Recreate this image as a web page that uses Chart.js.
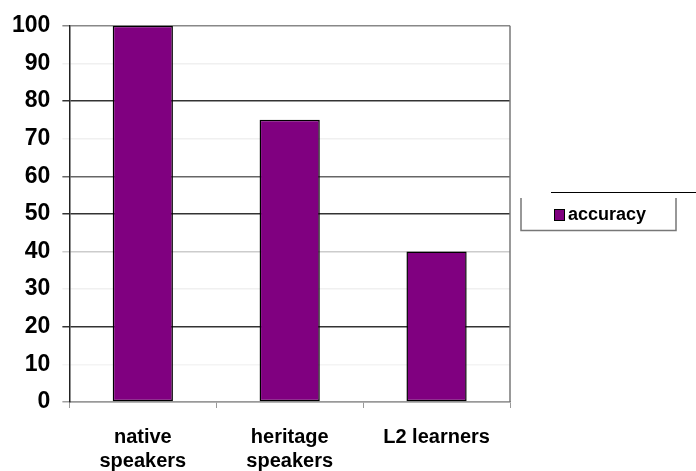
<!DOCTYPE html>
<html>
<head>
<meta charset="utf-8">
<style>
  html, body { margin: 0; padding: 0; background: #ffffff; }
  #wrap { width: 696px; height: 471px; }
</style>
<script src="https://cdn.jsdelivr.net/npm/chart.js@4/dist/chart.umd.min.js"></script>
</head>
<body>
<div id="wrap"><canvas id="accuracyChart" width="696" height="471"></canvas></div>
<script>
const groups = [["native", "speakers"], ["heritage", "speakers"], "L2 learners"];
const accuracy = [100, 75, 40];
const seriesName = "accuracy";
const yTicks = [0, 10, 20, 30, 40, 50, 60, 70, 80, 90, 100];

// old Excel export: gridlines come out in uneven shades
const gridShade = {
    0: "#a0a0a0", 10: "#f4f4f4", 20: "#333333", 30: "#f0f0f0", 40: "#cccccc",
    50: "#333333", 60: "#666666", 70: "#f0f0f0", 80: "#333333", 90: "#f0f0f0", 100: "#888888"
};

const FONT = "'Liberation Sans', Arial, sans-serif";

// right border of the plot + the legend frame
const frameAndLegend = {
    id: "frameAndLegend",
    afterDraw(chart) {
        const ctx = chart.ctx;
        const area = chart.chartArea;
        ctx.save();

        ctx.strokeStyle = "#777777";
        ctx.lineWidth = 1.5;
        ctx.beginPath();
        ctx.moveTo(area.right, area.top);
        ctx.lineTo(area.right, area.bottom);
        ctx.stroke();

        // legend box (top edge sits offset, like in the scan)
        ctx.strokeStyle = "#000000";
        ctx.lineWidth = 1;
        ctx.beginPath();
        ctx.moveTo(551, 192.5);
        ctx.lineTo(696, 192.5);
        ctx.stroke();

        ctx.strokeStyle = "#777777";
        ctx.lineWidth = 1.5;
        ctx.beginPath();
        ctx.moveTo(521, 198);
        ctx.lineTo(521, 230.5);
        ctx.lineTo(676, 230.5);
        ctx.lineTo(676, 198);
        ctx.stroke();

        const ds = chart.data.datasets[0];
        ctx.fillStyle = ds.backgroundColor;
        ctx.fillRect(554, 209, 10, 11);
        ctx.strokeStyle = "#000000";
        ctx.lineWidth = 1;
        ctx.strokeRect(554.5, 209.5, 10, 11);

        ctx.fillStyle = "#000000";
        ctx.font = "bold 18px " + FONT;
        ctx.textBaseline = "middle";
        ctx.textAlign = "left";
        ctx.fillText(ds.label, 568, 215);

        ctx.restore();
    }
};

new Chart(document.getElementById("accuracyChart").getContext("2d"), {
    type: "bar",
    data: {
        labels: groups,
        datasets: [{
            label: seriesName,
            data: accuracy,
            backgroundColor: "#800080",
            borderColor: "#000000",
            borderWidth: 1.5,
            borderSkipped: false,
            barPercentage: 0.41,
            categoryPercentage: 1
        }]
    },
    options: {
        responsive: false,
        animation: false,
        layout: {
            padding: { top: 18, right: 186, bottom: -19, left: 0 }
        },
        plugins: {
            legend: { display: false },
            tooltip: { enabled: false }
        },
        scales: {
            x: {
                grid: {
                    display: true,
                    drawOnChartArea: false,
                    drawTicks: true,
                    tickLength: 6,
                    color: "#999999",
                    offset: true
                },
                border: { color: "#999999", width: 1.5 },
                ticks: {
                    color: "#000000",
                    padding: 17,
                    font: { family: FONT, size: 20, weight: "bold", lineHeight: 1.2 },
                    maxRotation: 0
                }
            },
            y: {
                min: 0,
                max: 100,
                afterBuildTicks(axis) {
                    axis.ticks = yTicks.map(v => ({ value: v }));
                },
                grid: {
                    color: c => gridShade[c.tick.value] || "#dddddd",
                    lineWidth: 1.5,
                    tickLength: 7
                },
                border: { color: "#222222", width: 1.5 },
                ticks: {
                    color: "#000000",
                    padding: 12,
                    font: { family: FONT, size: 23, weight: "bold" }
                }
            }
        }
    },
    plugins: [frameAndLegend]
});
</script>
</body>
</html>
